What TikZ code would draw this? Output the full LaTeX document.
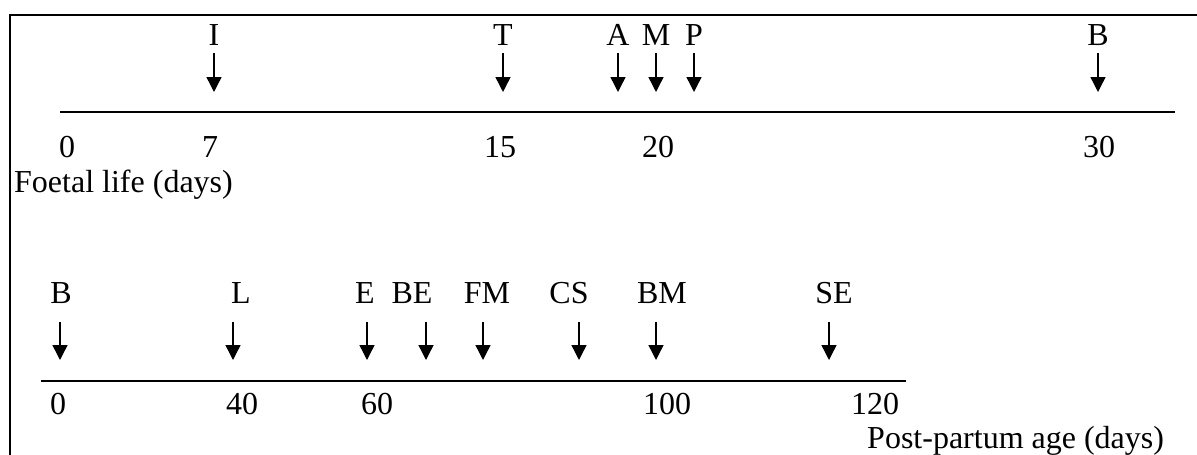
\documentclass[tikz,border=0pt]{standalone}
\usepackage{fontspec}
\setmainfont{Liberation Serif}
\usetikzlibrary{arrows.meta}
\begin{document}
\begin{tikzpicture}[x=1pt,y=-1pt,
  lbl/.style={anchor=base,inner sep=0pt,font=\fontsize{32}{38}\selectfont},
  lblw/.style={anchor=base west,inner sep=0pt,font=\fontsize{32}{38}\selectfont},
  evarrow/.style={line width=1.4pt,-{Triangle[width=15pt,length=15pt]}},
  axisline/.style={line width=2.2pt},
  frameline/.style={line width=2.6pt}]
\useasboundingbox (0,0) rectangle (1197,455);
% frame
\coordinate (fr1) at (1197,15);
\coordinate (fr2) at (10,15);
\coordinate (fr3) at (10,456);
\draw[frameline] (fr1) -- (fr2) -- (fr3);
% top axis
\coordinate (ta1) at (60,112);
\coordinate (ta2) at (1175,112);
\draw[axisline] (ta1) -- (ta2);
% top events
\foreach \n/\x/\lx/\t in {I/214/214/I, T/503/503/T, A/618/618/A, M/656/656/M, P/694/694/P, B/1098/1098/B}{
  \node[lbl] (t\n) at (\lx,45) {\t};
  \coordinate (ts\n) at (\x,53);
  \coordinate (te\n) at (\x,92);
  \draw[evarrow] (ts\n) -- (te\n);
}
% top numbers
\node[lbl] (tn0) at (67,157) {0};
\node[lbl] (tn7) at (210,157) {7};
\node[lbl] (tn15) at (500,157) {15};
\node[lbl] (tn20) at (658,157) {20};
\node[lbl] (tn30) at (1099,157) {30};
\node[lblw] (foetal) at (14,192) {Foetal life (days)};
% bottom axis
\coordinate (ba1) at (41,381);
\coordinate (ba2) at (906,381);
\draw[axisline] (ba1) -- (ba2);
% bottom events
\foreach \n/\x/\lx/\t in {b1/60/61/B, b2/233/241/L, b3/367/365/E, b4/426/412/BE, b5/483/487/FM, b6/579/569/CS, b7/656/662/BM, b8/829/834/SE}{
  \node[lbl] (\n) at (\lx,303) {\t};
  \coordinate (s\n) at (\x,322);
  \coordinate (e\n) at (\x,360);
  \draw[evarrow] (s\n) -- (e\n);
}
% bottom numbers
\node[lbl] (bn0) at (58,414) {0};
\node[lbl] (bn40) at (242,414) {40};
\node[lbl] (bn60) at (377,414) {60};
\node[lbl] (bn100) at (667,414) {100};
\node[lbl] (bn120) at (875,414) {120};
\node[lblw] (post) at (867,448) {Post-partum age (days)};
\end{tikzpicture}
\end{document}
